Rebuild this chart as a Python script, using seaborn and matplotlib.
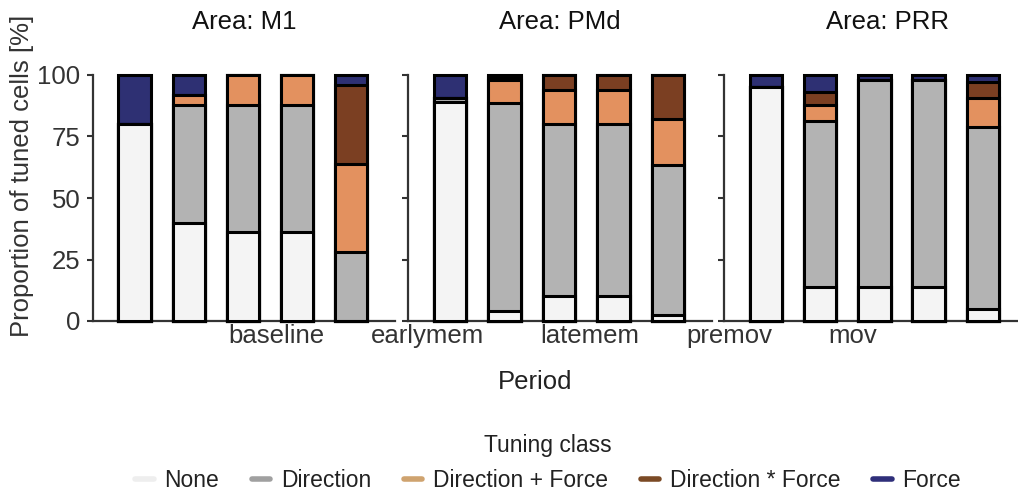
import numpy as np
import pandas as pd
import seaborn as sns
import matplotlib.pyplot as plt
from matplotlib.lines import Line2D

# Tuning-class composition per area and task period (percent of tuned cells)
areas = ["M1", "PMd", "PRR"]
periods = ["baseline", "earlymem", "latemem", "premov", "mov"]
classes = ["None", "Direction", "Direction + Force", "Direction * Force", "Force"]

none_pct = {
    "M1":  [80, 40, 36, 36, 0],
    "PMd": [89, 4, 10, 10, 2.5],
    "PRR": [95, 14, 14, 14, 5],
}
direction_pct = {
    "M1":  [0, 48, 52, 52, 28],
    "PMd": [1.5, 84.5, 70, 70, 61],
    "PRR": [0, 67.5, 84, 84, 74],
}
dir_plus_force_pct = {
    "M1":  [0, 4, 12, 12, 36],
    "PMd": [0, 9.5, 14, 14, 18.5],
    "PRR": [0, 6.5, 0, 0, 11.5],
}
dir_times_force_pct = {
    "M1":  [0, 0, 0, 0, 32],
    "PMd": [0, 1, 6, 6, 18],
    "PRR": [0, 5, 0, 0, 6.5],
}
force_pct = {
    "M1":  [20, 8, 0, 0, 4],
    "PMd": [9.5, 1, 0, 0, 0],
    "PRR": [5, 7, 2, 2, 3],
}

bar_colors = ["#f4f4f4", "#b3b3b3", "#e3915f", "#7b3f22", "#2e3073"]
legend_colors = ["#eeeeee", "#a0a0a0", "#cfa36f", "#7b4a25", "#2f2f7a"]

rows = []
for area in areas:
    for i, period in enumerate(periods):
        vals = [none_pct[area][i], direction_pct[area][i], dir_plus_force_pct[area][i],
                dir_times_force_pct[area][i], force_pct[area][i]]
        cum = np.cumsum(vals)
        for cls, v, c in zip(classes, vals, cum):
            rows.append({"area": area, "period": period, "tuning": cls,
                         "pct": v, "cum": c})
df = pd.DataFrame(rows)

sns.set_theme(style="white")
plt.rcParams["font.family"] = ["Liberation Sans", "DejaVu Sans"]
plt.rcParams["text.color"] = "#222222"

FS = 18.5
LEG_FS = 16.5
W, H = 1018, 496
fig = plt.figure(figsize=(W / 100, H / 100), dpi=100)

panel_left_px = [93, 408, 724]
panel_width_px = [302, 304, 303]
top_px, bottom_px = 75, 321

axes = []
for k, area in enumerate(areas):
    ax = fig.add_axes([panel_left_px[k] / W, 1 - bottom_px / H,
                       panel_width_px[k] / W, (bottom_px - top_px) / H])
    sub = df[df["area"] == area]
    # stacked bars: draw cumulative totals from the top class downwards
    for cls, col in reversed(list(zip(classes, bar_colors))):
        part = sub[sub["tuning"] == cls]
        sns.barplot(data=part, x="period", y="cum", order=periods, color=col,
                    width=0.6, edgecolor="black", linewidth=2.2, saturation=1,
                    errorbar=None, ax=ax)
    for p in ax.patches:
        p.set_clip_on(False)
    ax.set_xlim(-0.77, 4.81)
    ax.set_ylim(0, 100)
    ax.set_xlabel("")
    ax.set_ylabel("")
    ax.set_xticks([])
    ax.set_yticks([0, 25, 50, 75, 100])
    ax.tick_params(axis="y", direction="out", length=4, width=1.5, color="#333333",
                   left=True, pad=5, labelsize=FS, labelcolor="#333333")
    if k > 0:
        ax.set_yticklabels([])
    for s in ["top", "right"]:
        ax.spines[s].set_visible(False)
    for s in ["left", "bottom"]:
        ax.spines[s].set_color("#333333")
        ax.spines[s].set_linewidth(1.6)
        ax.spines[s].set_zorder(0.5)
    title_x = 0.5 if k < 2 else 0.54
    ax.text(title_x, 1.215, f"Area: {area}", transform=ax.transAxes,
            ha="center", va="center", fontsize=FS, color="#111111")
    axes.append(ax)

# period labels along the bottom
label_x_px = [276, 428, 590, 729, 853]
for px, lab in zip(label_x_px, periods):
    fig.text(px / W, 1 - 336 / H, lab, ha="center", va="center",
             fontsize=FS, color="#333333")

fig.text(535 / W, 1 - 382 / H, "Period", ha="center", va="center",
         fontsize=FS, color="#222222")
fig.text(22 / W, 1 - 176 / H, "Proportion of tuned cells [%]", rotation=90,
         ha="center", va="center", fontsize=FS, color="#333333")

handles = [Line2D([0], [0], color=c, lw=4) for c in legend_colors]
leg = fig.legend(handles, classes, title="Tuning class", ncol=5,
                 loc="center", bbox_to_anchor=(548 / W, 1 - 463 / H),
                 frameon=False, fontsize=LEG_FS, title_fontsize=LEG_FS,
                 handlelength=0.8, handletextpad=0.45, columnspacing=1.45,
                 labelspacing=0.52)
for t in leg.get_texts():
    t.set_color("#222222")

fig.savefig("out.png", dpi=100)
